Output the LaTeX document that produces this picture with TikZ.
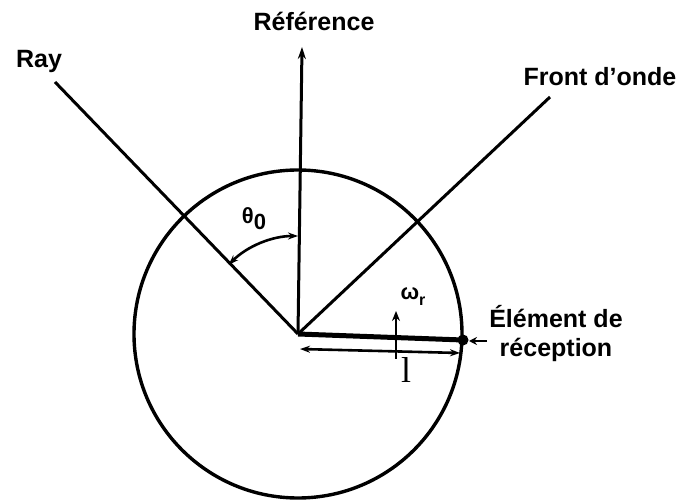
\documentclass[tikz,border=0pt]{standalone}
\usepackage{fontspec}
\setmainfont{Liberation Sans}
\newfontfamily\seriffont{Liberation Serif}
\usepackage{tikz}
\usetikzlibrary{arrows.meta, positioning, calc}

\begin{document}
\begin{tikzpicture}[
  x=1pt, y=-1pt,
  lbl/.style={font=\fontsize{25}{29}\selectfont\bfseries, inner sep=0pt, align=center},
  sym/.style={font=\fontsize{22}{24}\selectfont\bfseries, inner sep=0pt},
  ln/.style={line width=3pt},
  arr/.style={-{Stealth[length=12pt, width=8pt]}, line width=3pt},
  darr/.style={{Stealth[length=10pt, width=7pt]}-{Stealth[length=10pt, width=7pt]}, line width=2.6pt}
]
  \useasboundingbox (0,0) rectangle (686,502);

  \coordinate (O) at (298,334);
  \coordinate (Rtop) at (302,47);
  \coordinate (Rstart) at (55,82);
  \coordinate (Fstart) at (550,97);
  \coordinate (E) at (463,340);

  \node[lbl] (ref) at (314,21) {Référence};
  \node[lbl] (ray) at (39,61) {Ray};
  \node[lbl] (front) at (600,77) {Front d'onde};
  \node[lbl] (elem) at (556,334) {Élément de\\réception};
  \node[sym] (theta) at (254,219) {θ\raisebox{-6pt}{0}};
  \node[sym] (omega) at (413,297) {ω\raisebox{-6pt}{\fontsize{16}{16}\selectfont r}};
  \node[font=\fontsize{36}{38}\selectfont\seriffont, inner sep=0pt] (len) at (406,370) {l};

  \draw[line width=3.4pt] (O) circle[radius=164];

  \draw[arr] (O) -- (Rtop);
  \draw[ln] (Rstart) -- (O);
  \draw[ln] (Fstart) -- (O);

  \draw[darr] (O) ++(0,-98) arc[start angle=-90, end angle=-135, radius=98];

  \draw[line width=5pt] (O) -- (E);
  \fill (E) circle[radius=5.5];
  \draw[-{Stealth[length=8pt, width=8pt]}, line width=2.4pt] (487,341) -- (469,341);

  \coordinate (L1) at (300,349);
  \coordinate (L2) at (460,353);
  \draw[darr] (L1) -- (L2);

  \coordinate (W1) at (396,359);
  \coordinate (W2) at (396,311);
  \draw[-{Stealth[length=10pt, width=8pt]}, line width=2.6pt] (W1) -- (W2);
\end{tikzpicture}
\end{document}
